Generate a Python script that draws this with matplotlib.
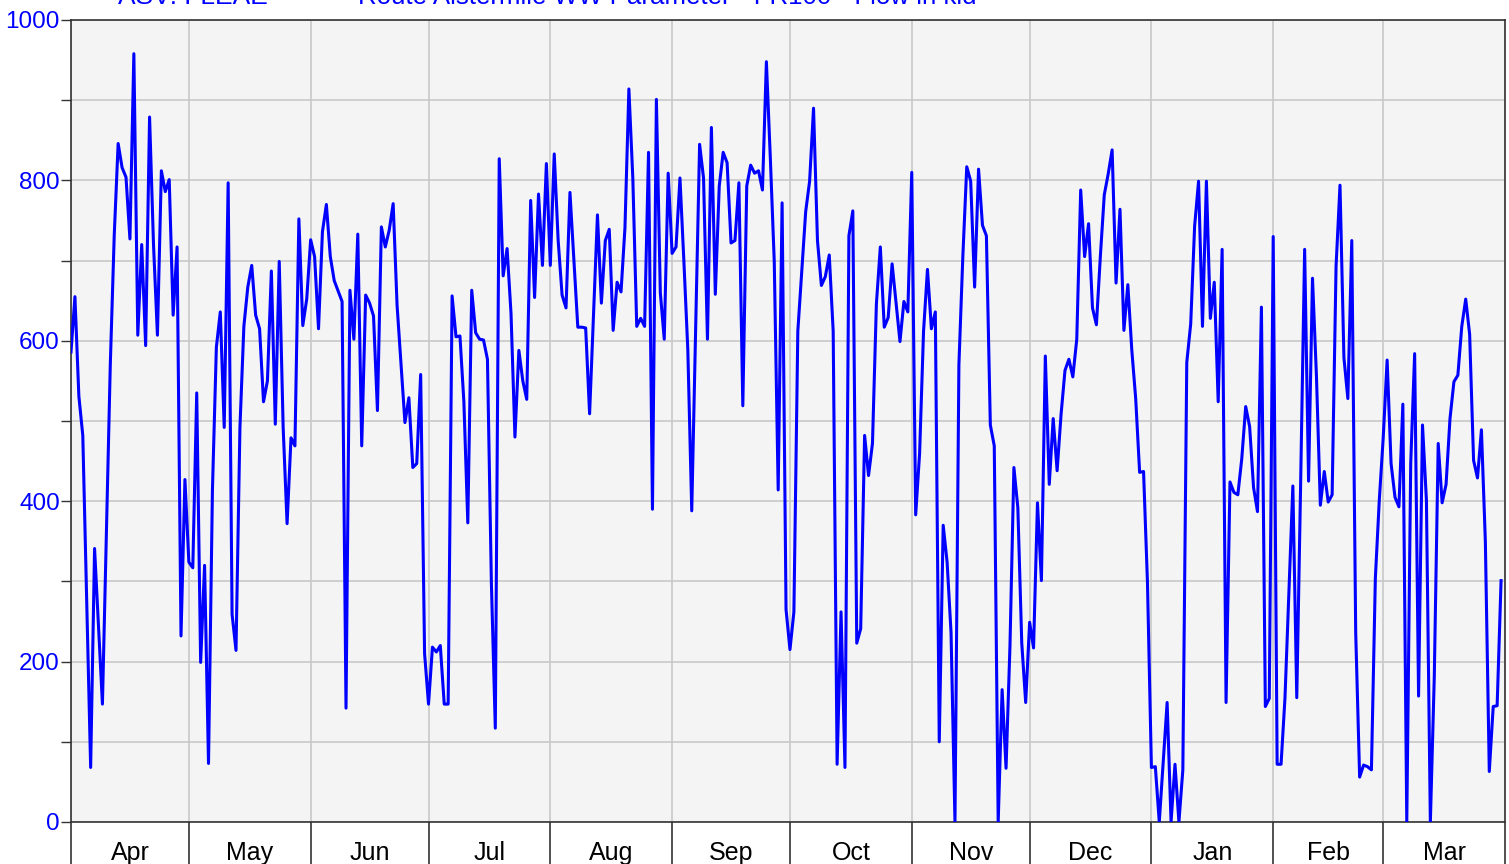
import matplotlib
matplotlib.use("Agg")
import matplotlib.pyplot as plt
from matplotlib.ticker import FixedLocator, NullFormatter, FixedFormatter

plt.rcParams['font.family'] = ['Liberation Sans', 'DejaVu Sans']

# month names and their start offsets (days since 1 April)
months = ["Apr", "May", "Jun", "Jul", "Aug", "Sep", "Oct", "Nov", "Dec", "Jan", "Feb", "Mar"]
month_starts = [0, 30, 61, 91, 122, 153, 183, 214, 244, 275, 306, 334, 365]

# daily flow readings (day offset since 1 April, value)
days = [
    0, 1, 2, 3, 5, 6, 8, 10, 11, 12, 13, 14, 15, 16, 17, 18, 19, 20, 21, 22,
    23, 24, 25, 26, 27, 28, 29, 30, 31, 32, 33, 34, 35, 36, 37, 38, 39, 40, 41, 42,
    43, 44, 45, 46, 47, 48, 49, 50, 51, 52, 53, 54, 55, 56, 57, 58, 59, 60, 61, 62,
    63, 64, 65, 66, 67, 68, 69, 70, 71, 72, 73, 74, 75, 76, 77, 78, 79, 80, 81, 82,
    83, 84, 85, 86, 87, 88, 89, 90, 91, 92, 93, 94, 95, 96, 97, 98, 99, 100, 101, 102,
    103, 104, 105, 106, 107, 108, 109, 110, 111, 112, 113, 114, 115, 116, 117, 118, 119, 120, 121, 122,
    123, 124, 125, 126, 127, 129, 130, 131, 132, 134, 135, 136, 137, 138, 139, 140, 141, 142, 143, 144,
    145, 146, 147, 148, 149, 150, 151, 152, 153, 154, 155, 156, 157, 158, 160, 161, 162, 163, 164, 165,
    166, 167, 168, 169, 170, 171, 172, 173, 174, 175, 176, 177, 178, 179, 180, 181, 182, 183, 184, 185,
    186, 187, 188, 189, 190, 191, 192, 193, 194, 195, 196, 197, 198, 199, 200, 201, 202, 203, 204, 205,
    206, 207, 208, 209, 210, 211, 212, 213, 214, 215, 216, 217, 218, 219, 220, 221, 222, 223, 224, 225,
    226, 227, 228, 229, 230, 231, 232, 233, 234, 235, 236, 237, 238, 239, 240, 241, 242, 243, 244, 245,
    246, 247, 248, 249, 250, 251, 252, 253, 254, 255, 256, 257, 258, 259, 260, 261, 262, 263, 264, 265,
    266, 267, 268, 269, 270, 271, 272, 273, 274, 275, 276, 277, 279, 280, 281, 282, 283, 284, 285, 286,
    287, 288, 289, 290, 291, 292, 293, 294, 295, 296, 297, 298, 299, 300, 301, 302, 303, 304, 305, 306,
    307, 308, 309, 311, 312, 313, 314, 315, 316, 317, 318, 319, 320, 321, 322, 323, 324, 325, 326, 327,
    328, 329, 330, 331, 332, 333, 334, 335, 336, 337, 338, 339, 340, 341, 342, 343, 344, 345, 346, 347,
    348, 349, 350, 351, 352, 353, 354, 355, 356, 357, 358, 359, 360, 361, 362, 363, 364,
]
flow = [
    586, 655, 531, 482, 68, 341, 147, 570, 731, 846, 816, 804, 727, 958, 607, 720, 594, 879, 720, 607,
    812, 786, 801, 632, 717, 232, 427, 324, 317, 535, 199, 320, 73, 414, 592, 636, 492, 797, 259, 214,
    492, 618, 667, 694, 632, 615, 524, 550, 687, 496, 699, 492, 372, 479, 469, 752, 619, 652, 726, 705,
    615, 736, 770, 705, 675, 662, 649, 142, 663, 602, 733, 469, 657, 647, 631, 513, 742, 717, 738, 771,
    644, 570, 498, 529, 442, 447, 558, 210, 147, 218, 212, 220, 147, 147, 656, 605, 606, 524, 373, 663,
    610, 602, 601, 577, 298, 117, 827, 681, 715, 634, 480, 588, 550, 527, 775, 654, 783, 694, 821, 694,
    833, 725, 657, 641, 785, 617, 617, 616, 509, 757, 647, 725, 739, 613, 673, 661, 741, 914, 803, 618,
    628, 618, 835, 390, 901, 660, 602, 809, 709, 717, 803, 699, 589, 388, 845, 803, 602, 866, 658, 793,
    835, 822, 722, 725, 797, 519, 793, 819, 809, 812, 788, 948, 828, 699, 414, 772, 265, 215, 262, 612,
    686, 761, 799, 890, 725, 669, 680, 707, 612, 72, 262, 68, 731, 762, 223, 241, 482, 432, 472, 646,
    717, 617, 629, 696, 647, 599, 649, 636, 810, 383, 460, 612, 689, 615, 636, 100, 370, 324, 236, 0,
    570, 705, 817, 799, 667, 814, 744, 731, 495, 469, 0, 165, 67, 220, 442, 392, 223, 149, 249, 217,
    398, 301, 581, 421, 503, 438, 508, 563, 577, 555, 602, 788, 705, 746, 641, 620, 705, 782, 808, 838,
    672, 764, 613, 670, 589, 528, 436, 437, 298, 68, 69, 0, 149, 0, 72, 0, 65, 573, 621, 743,
    799, 618, 799, 628, 673, 524, 714, 149, 424, 411, 408, 453, 518, 493, 417, 387, 642, 144, 154, 730,
    72, 72, 155, 419, 155, 427, 714, 425, 678, 557, 395, 437, 399, 408, 693, 794, 579, 528, 725, 236,
    56, 71, 69, 65, 304, 401, 479, 576, 447, 405, 393, 521, 0, 447, 584, 157, 495, 401, 0, 181,
    472, 398, 421, 503, 549, 557, 618, 652, 608, 451, 429, 489, 350, 63, 144, 145, 301,
]

y_major = [0, 200, 400, 600, 800, 1000]
y_minor = [100, 300, 500, 700, 900]

fig = plt.figure(figsize=(15.09, 8.64), dpi=100)
ax = fig.add_axes([71 / 1509, 1 - 822 / 864, (1505 - 71) / 1509, (822 - 20) / 864])
ax.set_facecolor('#f4f4f4')

ax.plot(days, flow, color='#0000ff', linewidth=2.2, zorder=3, clip_on=True)

ax.set_xlim(0, 365)
ax.set_ylim(0, 1000)

# y axis
ax.yaxis.set_major_locator(FixedLocator(y_major))
ax.yaxis.set_minor_locator(FixedLocator(y_minor))
ax.tick_params(axis='y', which='major', labelsize=17.5, labelcolor='#0000ff',
               length=7, width=1, color='#333333', pad=1)
ax.tick_params(axis='y', which='minor', length=7, width=1, color='#333333')
ax.grid(True, axis='y', which='both', color='#c8c8c8', linewidth=1.2, zorder=1)

# x axis: long ticks at month boundaries, labels centered in each month
mids = [(a + b) / 2 for a, b in zip(month_starts[:-1], month_starts[1:])]
ax.xaxis.set_major_locator(FixedLocator(month_starts))
ax.xaxis.set_major_formatter(NullFormatter())
ax.xaxis.set_minor_locator(FixedLocator(mids))
ax.xaxis.set_minor_formatter(FixedFormatter(months))
ax.tick_params(axis='x', which='major', length=30, width=1.2, color='#333333')
ax.tick_params(axis='x', which='minor', length=0, labelsize=18, labelcolor='black', pad=14)
ax.grid(True, axis='x', which='major', color='#c8c8c8', linewidth=1.2, zorder=1)
ax.set_axisbelow(True)

for s in ax.spines.values():
    s.set_color('#333333')
    s.set_linewidth(1.2)

# clipped title line at the top of the image
fig.text(118 / 1509, 1 - 4 / 864, "ASV: FLEAE", color='#0000ff', fontsize=19,
         ha='left', va='baseline')
fig.text(358 / 1509, 1 - 4 / 864, "Route Aistermile WW Parameter - FR100 - Flow in kld",
         color='#0000ff', fontsize=18.6, ha='left', va='baseline')

fig.savefig('out.png', dpi=100)
